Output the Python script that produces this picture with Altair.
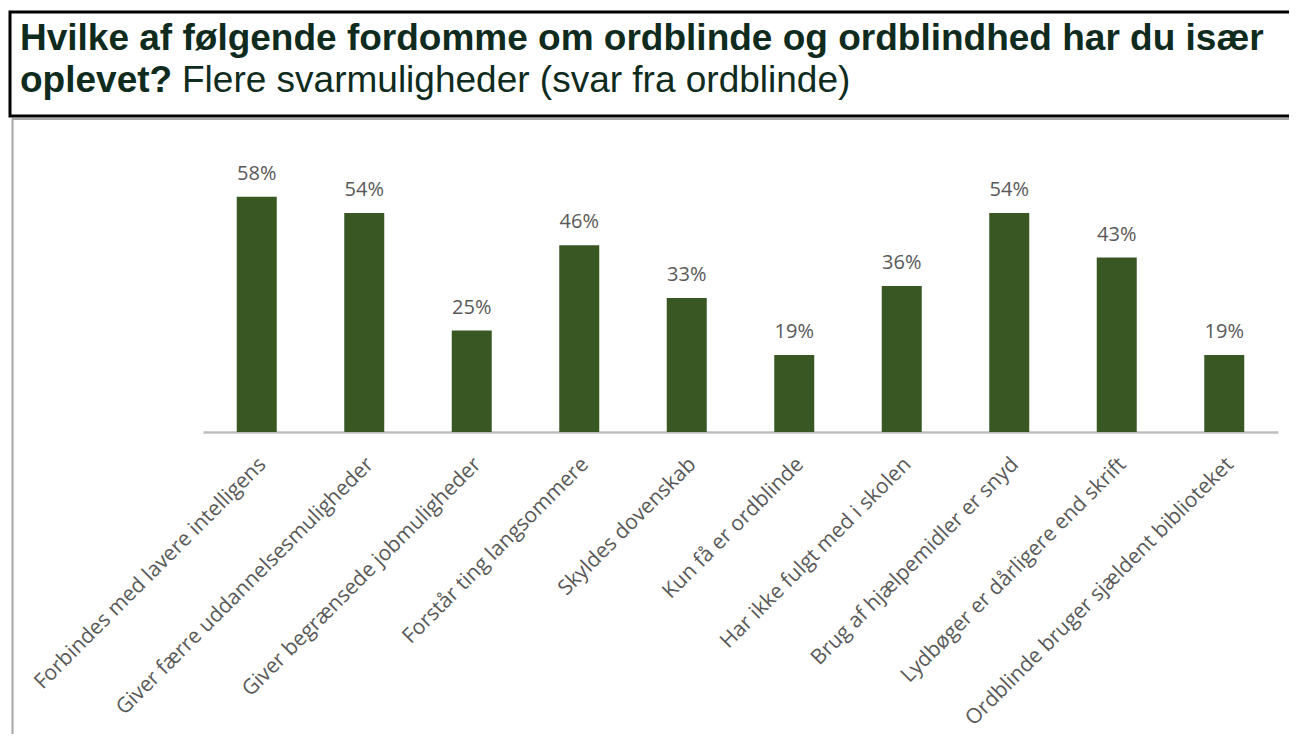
import altair as alt
import pandas as pd

# ---- data ----
categories = [
    "Forbindes med lavere intelligens",
    "Giver færre uddannelsesmuligheder",
    "Giver begrænsede jobmuligheder",
    "Forstår ting langsommere",
    "Skyldes dovenskab",
    "Kun få er ordblinde",
    "Har ikke fulgt med i skolen",
    "Brug af hjælpemidler er snyd",
    "Lydbøger er dårligere end skrift",
    "Ordblinde bruger sjældent biblioteket",
]
values = [58, 54, 25, 46, 33, 19, 36, 54, 43, 19]

title_line1 = ["Hvilke af følgende fordomme om ordblinde og ordblindhed har du især"]
title_line2_bold = ["oplevet?"]
title_line2_regular = ["Flere svarmuligheder (svar fra ordblinde)"]

df = pd.DataFrame({"cat": categories, "val": values})
df["lbl"] = [f"{v}%" for v in values]

BAR = "#385723"
TITLE_COLOR = "#0f2b1d"
GRAY = "#595959"

x_enc = alt.X(
    "cat:N",
    sort=None,
    scale=alt.Scale(paddingInner=0.628, paddingOuter=0.314),
    axis=alt.Axis(
        title=None,
        labelAngle=315,
        labelAlign="right",
        labelBaseline="middle",
        labelFont="Open Sans",
        labelFontSize=21,
        labelColor=GRAY,
        labelLimit=600,
        labelPadding=29,
        labelOffset=6,
        ticks=False,
        domainColor="#bfbfbf",
        domainWidth=2.5,
        grid=False,
    ),
)
y_enc = alt.Y("val:Q", scale=alt.Scale(domain=[0, 70]), axis=None)

base = alt.Chart(df)
bars = base.mark_bar(color=BAR).encode(x=x_enc, y=y_enc)
labels = base.mark_text(
    font="Open Sans", fontSize=20, color=GRAY, baseline="alphabetic", dy=-17
).encode(x=alt.X("cat:N", sort=None), y=y_enc, text="lbl:N")

one = pd.DataFrame({"k": [0]})

title_box = alt.Chart(one).mark_rect(
    fill="white", fillOpacity=0, stroke="black", strokeWidth=3
).encode(x=alt.value(-193), x2=alt.value(1200), y=alt.value(-136), y2=alt.value(-32))

frame = alt.Chart(one).mark_rect(
    fill="white", fillOpacity=0, stroke="#a6a6a6", strokeWidth=2
).encode(x=alt.value(-190.5), x2=alt.value(1200), y=alt.value(-29), y2=alt.value(700))

t1 = alt.Chart(pd.DataFrame({"t": title_line1})).mark_text(
    font="Liberation Sans", fontSize=37, fontWeight="bold", color=TITLE_COLOR,
    align="left", baseline="alphabetic"
).encode(x=alt.value(-183), y=alt.value(-98), text="t:N")

t2 = alt.Chart(pd.DataFrame({"t": title_line2_bold})).mark_text(
    font="Liberation Sans", fontSize=37, fontWeight="bold", color=TITLE_COLOR,
    align="left", baseline="alphabetic"
).encode(x=alt.value(-183), y=alt.value(-56), text="t:N")

t3 = alt.Chart(pd.DataFrame({"t": title_line2_regular})).mark_text(
    font="Liberation Sans", fontSize=37, fontWeight="normal", color=TITLE_COLOR,
    align="left", baseline="alphabetic"
).encode(x=alt.value(-21), y=alt.value(-56), text="t:N")

chart = alt.layer(frame, title_box, bars, labels, t1, t2, t3).properties(
    width=1075,
    height=284,
    background="white",
    autosize=alt.AutoSizeParams(type="none"),
    padding={"left": 195, "top": 140, "right": 11, "bottom": 302},
).configure_view(stroke="transparent", strokeWidth=0)

chart.save("out.html", embed_options={"renderer": "svg", "actions": False})
